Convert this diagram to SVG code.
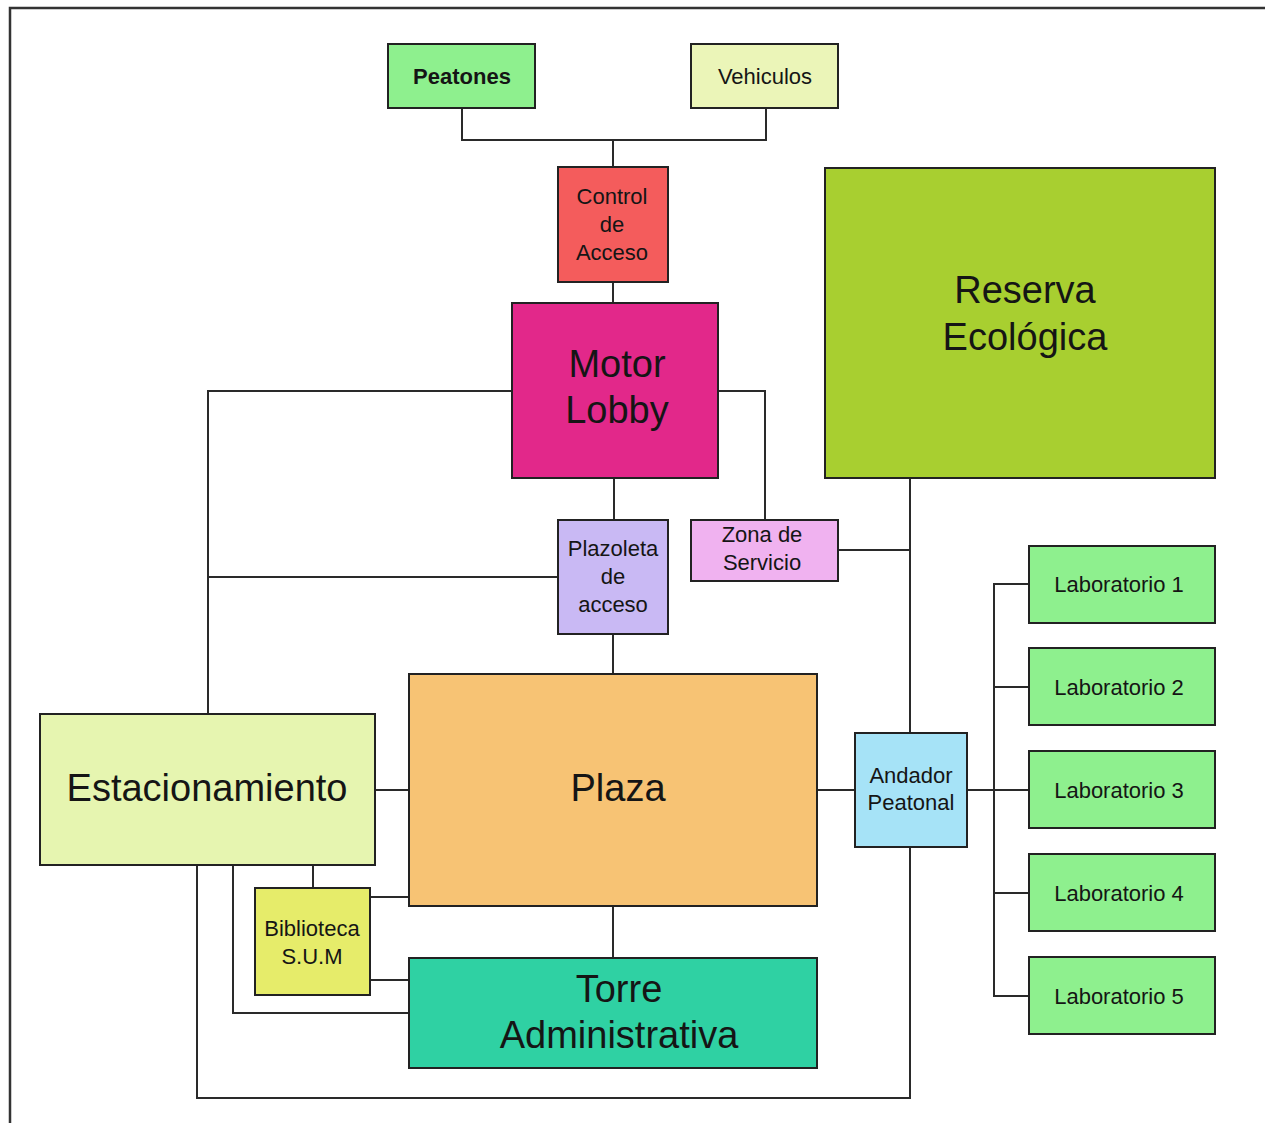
<svg xmlns="http://www.w3.org/2000/svg" width="1265" height="1123" viewBox="0 0 1265 1123">
<style>
  .box { stroke: #222; stroke-width: 2; }
  .conn { fill: none; stroke: #2a2a2a; stroke-width: 2; }
  .frame { fill: none; stroke: #333; stroke-width: 2.5; }
  text { font-family: "Liberation Sans", Arial, sans-serif; fill: #151515; text-anchor: middle; }
  .s { font-size: 22px; }
  .b { font-size: 38px; }
  .bold { font-weight: bold; }
</style>
<rect x="0" y="0" width="1265" height="1123" fill="#ffffff"/>
<path class="frame" d="M10 1123 V8 H1265"/>

<g id="connectors">
  <path class="conn" d="M462 108 V140 H766 V108"/>
  <path class="conn" d="M613 140 V167"/>
  <path class="conn" d="M613 282 V303"/>
  <path class="conn" d="M512 391 H208 V714"/>
  <path class="conn" d="M718 391 H765 V520"/>
  <path class="conn" d="M614 478 V520"/>
  <path class="conn" d="M558 577 H208"/>
  <path class="conn" d="M613 634 V674"/>
  <path class="conn" d="M838 550 H910"/>
  <path class="conn" d="M910 478 V733"/>
  <path class="conn" d="M910 847 V1098 H197 V865"/>
  <path class="conn" d="M375 790 H409"/>
  <path class="conn" d="M817 790 H855"/>
  <path class="conn" d="M967 790 H1029"/>
  <path class="conn" d="M1029 584 H994 V996 H1029"/>
  <path class="conn" d="M994 687 H1029"/>
  <path class="conn" d="M994 893 H1029"/>
  <path class="conn" d="M313 865 V888"/>
  <path class="conn" d="M370 897 H409"/>
  <path class="conn" d="M370 980 H409"/>
  <path class="conn" d="M233 865 V1013 H409"/>
  <path class="conn" d="M613 906 V958"/>
</g>

<g id="peatones">
  <rect class="box" x="388" y="44" width="147" height="64" fill="#8ef08e"/>
  <text class="s bold" x="462" y="84">Peatones</text>
</g>
<g id="vehiculos">
  <rect class="box" x="691" y="44" width="147" height="64" fill="#ebf5b8"/>
  <text class="s" x="765" y="84">Vehiculos</text>
</g>
<g id="control-acceso">
  <rect class="box" x="558" y="167" width="110" height="115" fill="#f45c5c"/>
  <text class="s" x="612" y="204">Control</text>
  <text class="s" x="612" y="232">de</text>
  <text class="s" x="612" y="260">Acceso</text>
</g>
<g id="motor-lobby">
  <rect class="box" x="512" y="303" width="206" height="175" fill="#e2288a"/>
  <text class="b" x="617" y="377">Motor</text>
  <text class="b" x="617" y="423">Lobby</text>
</g>
<g id="reserva-ecologica">
  <rect class="box" x="825" y="168" width="390" height="310" fill="#a8cf30"/>
  <text class="b" x="1025" y="303">Reserva</text>
  <text class="b" x="1025" y="350">Ecológica</text>
</g>
<g id="plazoleta-acceso">
  <rect class="box" x="558" y="520" width="110" height="114" fill="#c9b9f4"/>
  <text class="s" x="613" y="556">Plazoleta</text>
  <text class="s" x="613" y="584">de</text>
  <text class="s" x="613" y="612">acceso</text>
</g>
<g id="zona-servicio">
  <rect class="box" x="691" y="520" width="147" height="61" fill="#f0b2f0"/>
  <text class="s" x="762" y="542">Zona de</text>
  <text class="s" x="762" y="570">Servicio</text>
</g>
<g id="estacionamiento">
  <rect class="box" x="40" y="714" width="335" height="151" fill="#e6f5b0"/>
  <text class="b" x="207" y="801">Estacionamiento</text>
</g>
<g id="plaza">
  <rect class="box" x="409" y="674" width="408" height="232" fill="#f7c374"/>
  <text class="b" x="618" y="801">Plaza</text>
</g>
<g id="andador-peatonal">
  <rect class="box" x="855" y="733" width="112" height="114" fill="#a6e3f7"/>
  <text class="s" x="911" y="783">Andador</text>
  <text class="s" x="911" y="810">Peatonal</text>
</g>
<g id="laboratorio-1">
  <rect class="box" x="1029" y="546" width="186" height="77" fill="#8ef08e"/>
  <text class="s" x="1119" y="592">Laboratorio 1</text>
</g>
<g id="laboratorio-2">
  <rect class="box" x="1029" y="648" width="186" height="77" fill="#8ef08e"/>
  <text class="s" x="1119" y="695">Laboratorio 2</text>
</g>
<g id="laboratorio-3">
  <rect class="box" x="1029" y="751" width="186" height="77" fill="#8ef08e"/>
  <text class="s" x="1119" y="798">Laboratorio 3</text>
</g>
<g id="laboratorio-4">
  <rect class="box" x="1029" y="854" width="186" height="77" fill="#8ef08e"/>
  <text class="s" x="1119" y="901">Laboratorio 4</text>
</g>
<g id="laboratorio-5">
  <rect class="box" x="1029" y="957" width="186" height="77" fill="#8ef08e"/>
  <text class="s" x="1119" y="1004">Laboratorio 5</text>
</g>
<g id="biblioteca-sum">
  <rect class="box" x="255" y="888" width="115" height="107" fill="#e6ec6a"/>
  <text class="s" x="312" y="936">Biblioteca</text>
  <text class="s" x="312" y="964">S.U.M</text>
</g>
<g id="torre-administrativa">
  <rect class="box" x="409" y="958" width="408" height="110" fill="#2fd1a3"/>
  <text class="b" x="619" y="1002">Torre</text>
  <text class="b" x="619" y="1048">Administrativa</text>
</g>
</svg>
